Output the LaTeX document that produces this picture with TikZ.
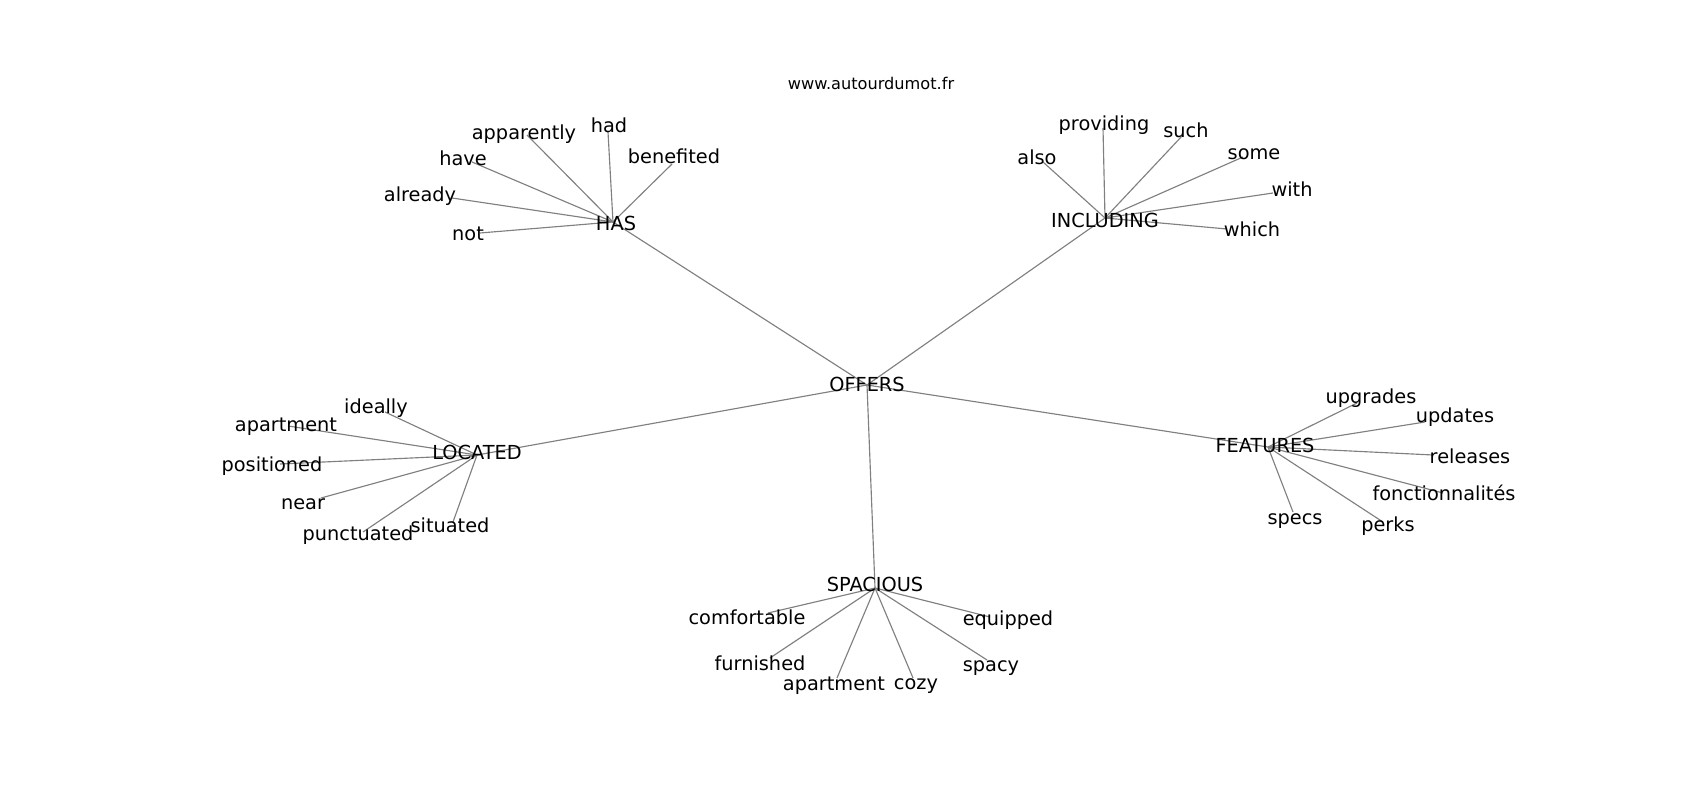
\documentclass[tikz,border=0pt]{standalone}
\usepackage{fontspec}
\setmainfont{DejaVu Sans}
\usepackage{tikz}

\tikzset{
    hub/.style={font=\fontsize{11}{13.2}\selectfont, inner sep=0pt, text height=0.73em, text depth=0.24em, yshift=-0.06cm},
    word/.style={font=\fontsize{11}{13.2}\selectfont, inner sep=0pt, text height=0.73em, text depth=0.24em, yshift=-0.06cm},
    edge/.style={black!50, line width=0.65pt}
}

\begin{document}
\begin{tikzpicture}[x=0.02cm, y=-0.02cm]
    \useasboundingbox (0,0) rectangle (1700,800);

    % Title
    \node[font=\fontsize{9.2}{11}\selectfont] (title) at (871,83) {www.autourdumot.fr};

    % Hubs
    \coordinate (offers) at (867,385);
    \coordinate (has) at (613,222);
    \coordinate (including) at (1105,218);
    \coordinate (located) at (477,455);
    \coordinate (features) at (1268,447);
    \coordinate (spacious) at (875,588);

    % Main branches
    \foreach \h in {has, including, located, features, spacious}
        \draw[edge] (offers) -- (\h);

    % HAS
    \foreach \n/\px/\py/\lx/\ly/\t in {not/480/233/468/233/not, already/452/198/420/194/already,
        have/472/162/463/158/have, apparently/527/135/524/132/apparently,
        had/608/132/609/125/had, benefited/672/164/674/156/benefited} {
        \coordinate (has-\n) at (\px,\py);
        \draw[edge] (has) -- (has-\n);
        \node[word] (has-\n-l) at (\lx,\ly) {\t};
    }

    % INCLUDING
    \foreach \n/\px/\py/\lx/\ly/\t in {also/1043/162/1037/157/also, providing/1103/128/1104/123/providing,
        such/1183/135/1186/130/such, some/1243/157/1254/152/some,
        with/1273/193/1292/189/with, which/1227/229/1252/229/which} {
        \coordinate (inc-\n) at (\px,\py);
        \draw[edge] (including) -- (inc-\n);
        \node[word] (inc-\n-l) at (\lx,\ly) {\t};
    }

    % LOCATED
    \foreach \n/\px/\py/\lx/\ly/\t in {ideally/385/412/376/406/ideally, apartment/288/426/286/424/apartment,
        positioned/280/464/272/464/positioned, near/321/498/303/502/near,
        punctuated/363/532/358/533/punctuated, situated/453/522/450/525/situated} {
        \coordinate (loc-\n) at (\px,\py);
        \draw[edge] (located) -- (loc-\n);
        \node[word] (loc-\n-l) at (\lx,\ly) {\t};
    }

    % FEATURES
    \foreach \n/\px/\py/\lx/\ly/\t in {upgrades/1357/403/1371/396/upgrades, updates/1425/422/1455/415/updates,
        releases/1433/455/1470/456/releases, fonct/1443/493/1444/493/fonctionnalités,
        specs/1293/512/1295/517/specs, perks/1383/522/1388/524/perks} {
        \coordinate (fea-\n) at (\px,\py);
        \draw[edge] (features) -- (fea-\n);
        \node[word] (fea-\n-l) at (\lx,\ly) {\t};
    }

    % SPACIOUS
    \foreach \n/\px/\py/\lx/\ly/\t in {comfortable/768/613/747/617/comfortable, furnished/770/658/760/663/furnished,
        apartment/837/678/834/683/apartment, cozy/913/678/916/682/cozy,
        spacy/987/660/991/664/spacy, equipped/990/617/1008/618/equipped} {
        \coordinate (spa-\n) at (\px,\py);
        \draw[edge] (spacious) -- (spa-\n);
        \node[word] (spa-\n-l) at (\lx,\ly) {\t};
    }

    % Hub labels
    \node[hub] (offers-l) at (867,384) {OFFERS};
    \node[hub] (has-l) at (616,223) {HAS};
    \node[hub] (including-l) at (1105,220) {INCLUDING};
    \node[hub] (located-l) at (477,452) {LOCATED};
    \node[hub] (features-l) at (1265,445) {FEATURES};
    \node[hub] (spacious-l) at (875,584) {SPACIOUS};
\end{tikzpicture}
\end{document}
